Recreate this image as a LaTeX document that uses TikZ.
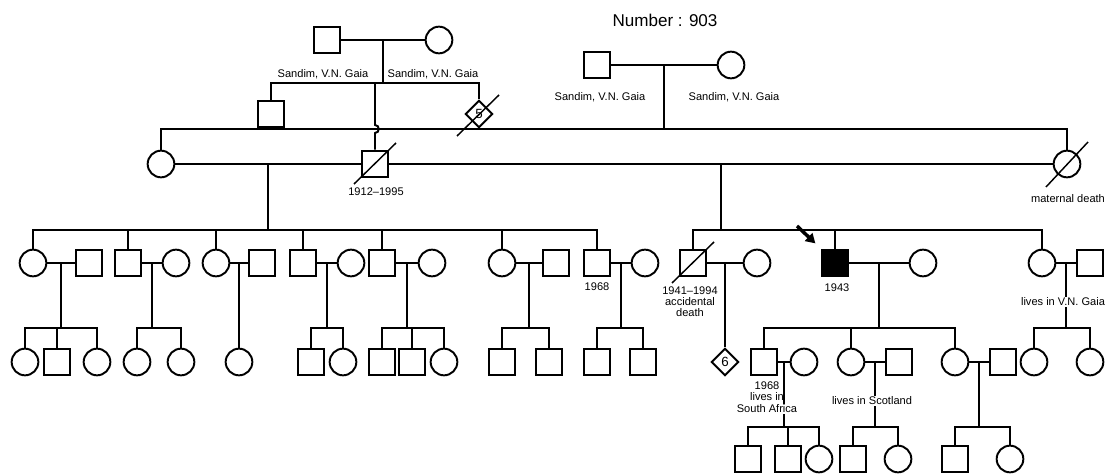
\documentclass[tikz,border=0pt]{standalone}
\usepackage{fontspec}
\setmainfont{Liberation Sans}
\usetikzlibrary{shapes.geometric, arrows.meta, positioning, calc}

\tikzset{
  ind/.style={draw, inner sep=0pt, minimum size=20pt, fill=white},
  male/.style={ind, rectangle},
  female/.style={ind, circle},
  unk/.style={ind, diamond, minimum size=20.5pt, font=\fontsize{10}{10}\selectfont},
  lbl/.style={font=\fontsize{8.3}{8.3}\selectfont, inner sep=1pt},
  slash/.style={line width=1.1pt},
  proband/.style={line width=2.6pt, -{Triangle[length=7pt,width=8pt]}}
}

\begin{document}
\begin{tikzpicture}[x=0.75pt, y=-0.75pt, line width=1.45pt]
\useasboundingbox (0,0) rectangle (1111,474);
\coordinate (sib1) at (0,83);
\coordinate (sib2) at (0,129);
\coordinate (sib3) at (0,230);
\coordinate (sib4) at (0,328);
\coordinate (sib5) at (0,427);

% Generation I: two couples
\node[male] (a1) at (327,40) {};
\node[female] (a2) at (439,40) {};
\node[male] (b1) at (597,65) {};
\node[female] (b2) at (731,65) {};
\draw (a1) -- (a2);
\draw (b1) -- (b2);
\coordinate (ma) at ($(a1)!0.5!(a2)$);
\coordinate (mb) at ($(b1)!0.5!(b2)$);
\draw (ma) -- (ma |- sib1);
\draw (mb) -- (mb |- sib2);
\node[font=\fontsize{12.8}{12.8}\selectfont] at (665,20) {Number : 903};
\node[lbl] at (323,74) {Sandim, V.N. Gaia};
\node[lbl] at (433,74) {Sandim, V.N. Gaia};
\node[lbl] at (600,97) {Sandim, V.N. Gaia};
\node[lbl] at (734,97) {Sandim, V.N. Gaia};

% Generation II
\node[male] (c1) at (271,114) {};
\node[unk] (c2) at (479,114) {5};
\node[female] (d1) at (161,164) {};
\node[male] (d2) at (375,164) {};
\node[female] (d3) at (1067,164) {};
\draw (c1.north) -- (c1.north |- sib1) -- (c2.north |- sib1) -- (c2.north);
\draw (d1.north) -- (d1.north |- sib2) -- (d3.north |- sib2) -- (d3.north);
% line hop over the crossing
\coordinate (hop) at (d2.north |- sib2);
\draw (d2.north |- sib1) -- ($(hop)+(0,-4)$) .. controls ($(hop)+(5,-4)$) and ($(hop)+(5,4)$) .. ($(hop)+(0,4)$) -- (d2.north);
\draw (d1) -- (d2);
\draw (d2) -- (d3);
\draw[slash] (c2) ++(-22,22) -- ++(42,-41);
\draw[slash] (d2) ++(-21,20) -- ++(42,-41);
\draw[slash] (d3) ++(-21,23) -- ++(42,-45);
\coordinate (md1) at ($(d1)!0.5!(d2)$);
\coordinate (md2) at ($(d2)!0.5!(d3)$);
\draw (md1) -- (md1 |- sib3);
\draw (md2) -- (md2 |- sib3);

% Generation III, first marriage
\node[female] (p1) at (33,263) {};
\node[male] (q1) at (89,263) {};
\node[male] (p2) at (128,263) {};
\node[female] (q2) at (176,263) {};
\node[female] (p3) at (216,263) {};
\node[male] (q3) at (262,263) {};
\node[male] (p4) at (303,263) {};
\node[female] (q4) at (351,263) {};
\node[male] (p5) at (382,263) {};
\node[female] (q5) at (432,263) {};
\node[female] (p6) at (502,263) {};
\node[male] (q6) at (556,263) {};
\node[male] (p7) at (597,263) {};
\node[female] (q7) at (645,263) {};
\draw (p1.north) -- (p1.north |- sib3) -- (p7.north |- sib3) -- (p7.north);
\foreach \n in {p2,p3,p4,p5,p6}
  \draw (\n.north) -- (\n.north |- sib3);
\foreach \a/\b in {p1/q1,p2/q2,p3/q3,p4/q4,p5/q5,p6/q6,p7/q7} {
  \draw (\a) -- (\b);
  \coordinate (m\a) at ($(\a)!0.5!(\b)$);
}

% Generation III, second marriage
\node[male] (s1) at (693,263) {};
\node[female] (s1w) at (757,263) {};
\node[male, fill=black] (pb) at (835,263) {};
\node[female] (pbw) at (923,263) {};
\node[female] (s3) at (1042,263) {};
\node[male] (s3h) at (1090,263) {};
\draw (s1.north) -- (s1.north |- sib3) -- (s3.north |- sib3) -- (s3.north);
\draw (pb.north) -- (pb.north |- sib3);
\foreach \a/\b in {s1/s1w,pb/pbw,s3/s3h} {
  \draw (\a) -- (\b);
  \coordinate (m\a) at ($(\a)!0.5!(\b)$);
}
\draw[slash] (s1) ++(-21,20) -- ++(42,-41);
\coordinate (arr) at (797,226);
\draw[proband] (arr) -- ([shift={(-4pt,4pt)}]pb.north west);

% Generation IV
\node[female] (k11) at (25,362) {};
\node[male] (k12) at (57,362) {};
\node[female] (k13) at (97,362) {};
\node[female] (k21) at (137,362) {};
\node[female] (k22) at (181,362) {};
\node[female] (k31) at (239,362) {};
\node[male] (k41) at (311,362) {};
\node[female] (k42) at (343,362) {};
\node[male] (k51) at (382,362) {};
\node[male] (k52) at (412,362) {};
\node[female] (k53) at (444,362) {};
\node[male] (k61) at (502,362) {};
\node[male] (k62) at (549,362) {};
\node[male] (k71) at (597,362) {};
\node[male] (k72) at (643,362) {};
\node[unk] (t6) at (725,362) {6};
\node[male] (r1) at (764,362) {};
\node[female] (r1w) at (804,362) {};
\node[female] (r2) at (851,362) {};
\node[male] (r2h) at (899,362) {};
\node[female] (r3) at (955,362) {};
\node[male] (r3h) at (1003,362) {};
\node[female] (u1) at (1034,362) {};
\node[female] (u2) at (1090,362) {};
\foreach \m/\a/\b in {mp1/k11/k13,mp2/k21/k22,mp4/k41/k42,mp5/k51/k53,mp6/k61/k62,mp7/k71/k72,mpb/r1/r3,ms3/u1/u2} {
  \draw (\m) -- (\m |- sib4);
  \draw (\a.north) -- (\a.north |- sib4) -- (\b.north |- sib4) -- (\b.north);
}
\foreach \n in {k12,k52,r2}
  \draw (\n.north) -- (\n.north |- sib4);
\draw (mp3) -- (k31.north);
\draw (ms1) -- (t6.north);
\foreach \a/\b in {r1/r1w,r2/r2h,r3/r3h} {
  \draw (\a) -- (\b);
  \coordinate (m\a) at ($(\a)!0.5!(\b)$);
}

% Generation V
\node[male] (v11) at (748,459) {};
\node[male] (v12) at (788,459) {};
\node[female] (v13) at (819,459) {};
\node[male] (v21) at (853,459) {};
\node[female] (v22) at (898,459) {};
\node[male] (v31) at (955,459) {};
\node[female] (v32) at (1010,459) {};
\foreach \m/\a/\b in {mr1/v11/v13,mr2/v21/v22,mr3/v31/v32} {
  \draw (\m) -- (\m |- sib5);
  \draw (\a.north) -- (\a.north |- sib5) -- (\b.north |- sib5) -- (\b.north);
}
\draw (v12.north) -- (v12.north |- sib5);

% Notes
\node[lbl] at (376,192) {1912--1995};
\node[lbl] at (1068,199) {maternal death};
\node[lbl] at (597,287) {1968};
\node[lbl, align=center] at (690,302) {1941--1994\\accidental\\death};
\node[lbl] at (837,288) {1943};
\node[lbl, fill=white] at (1063,302) {lives in V.N. Gaia};
\node[lbl, align=center] at (767,391) {1968\\lives in};
\node[lbl, fill=white] at (767,409) {South Africa};
\node[lbl, fill=white] at (872,401) {lives in Scotland};
\end{tikzpicture}
\end{document}
